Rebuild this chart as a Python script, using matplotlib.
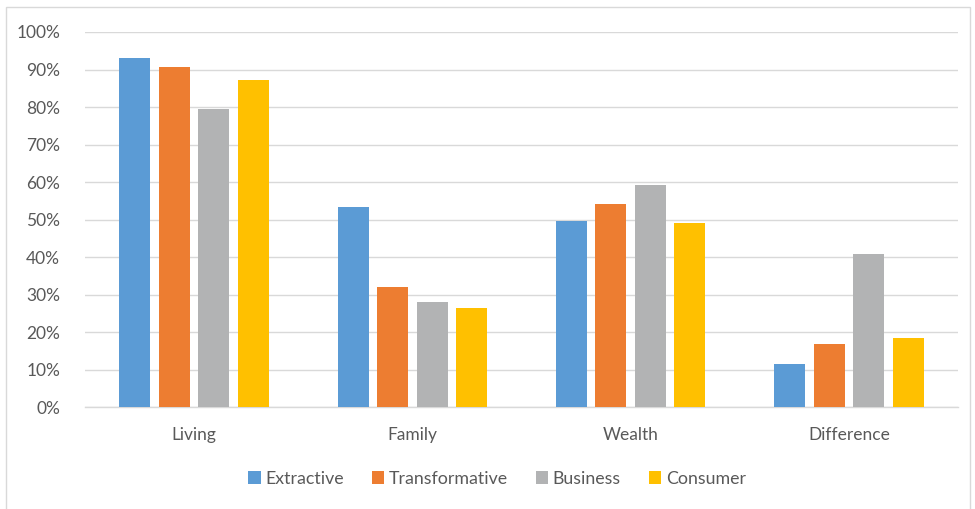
import matplotlib
matplotlib.use("Agg")
import matplotlib.pyplot as plt
import numpy as np
from matplotlib.patches import Rectangle
from matplotlib.ticker import PercentFormatter

categories = ["Living", "Family", "Wealth", "Difference"]
series = ["Extractive", "Transformative", "Business", "Consumer"]
extractive = [93.1, 53.4, 49.7, 11.5]
transformative = [90.6, 32.0, 54.1, 16.9]
business = [79.6, 28.0, 59.2, 40.8]
consumer = [87.3, 26.4, 49.0, 18.4]
values = [extractive, transformative, business, consumer]
colors = ["#5B9BD5", "#ED7D31", "#B2B3B4", "#FFC000"]

plt.rcParams['font.family'] = ['Lato', 'DejaVu Sans']
W, H = 975, 509
fig = plt.figure(figsize=(W/100, H/100), dpi=100)
ax = fig.add_axes([85/W, 1-407.3/H, (958-85)/W, (407.3-32)/H])

x = np.arange(len(categories))
slot = 0.181
bw = 0.142
for i, (vals, c) in enumerate(zip(values, colors)):
    ax.bar(x + (i-1.5)*slot, vals, width=bw, color=c, label=series[i], zorder=3)

ax.set_xlim(-0.5, len(categories)-0.5)
ax.set_ylim(0, 100)
ax.set_yticks(np.arange(0, 101, 10))
ax.yaxis.set_major_formatter(PercentFormatter(decimals=0))
ax.set_xticks(x)
ax.set_xticklabels(categories)
ax.grid(axis='y', color='#D9D9D9', linewidth=1.0, zorder=0)
for s in ['top', 'right', 'left']:
    ax.spines[s].set_visible(False)
ax.spines['bottom'].set_color('#D9D9D9')
ax.spines['bottom'].set_linewidth(1.0)
ax.tick_params(axis='both', length=0, colors='#595959', labelsize=12.5)
ax.tick_params(axis='y', pad=18)
ax.tick_params(axis='x', pad=14)

leg = fig.legend(loc='center', bbox_to_anchor=(497/W, 1-479/H), ncol=4, frameon=False,
                 fontsize=12.8, handlelength=0.72, handleheight=0.72, handletextpad=0.25,
                 columnspacing=1.55, labelcolor='#595959')

fig.patches.append(Rectangle((6/W, -0.05), (970-6)/W, 1-7/H+0.05, transform=fig.transFigure,
                             fill=False, edgecolor='#D9D9D9', linewidth=1.0))

fig.savefig("out.png", dpi=100)
